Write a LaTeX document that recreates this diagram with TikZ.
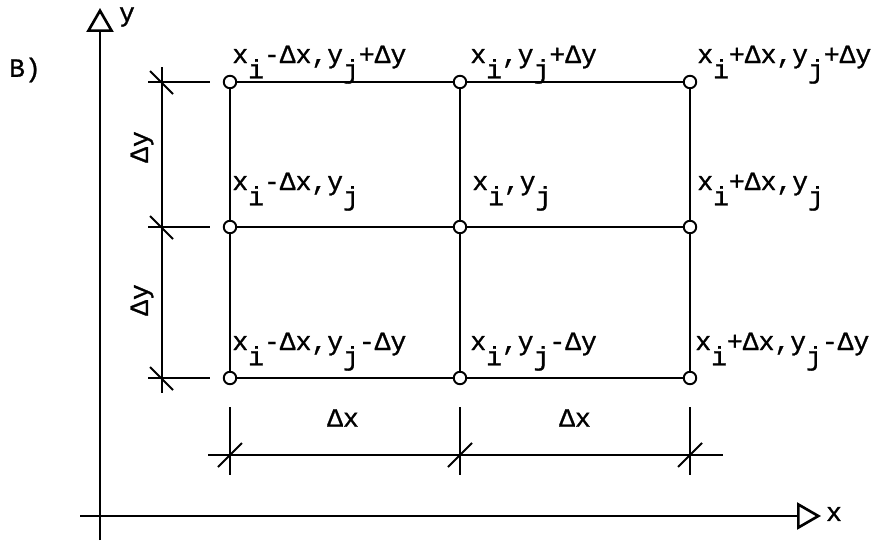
\documentclass[tikz,border=0pt]{standalone}
\usepackage{fontspec}
\setmainfont{Liberation Mono}[FakeBold=1]
\usetikzlibrary{arrows.meta,positioning}
\newcommand{\dn}[1]{\raisebox{-0.58em}{#1}}

\begin{document}
\begin{tikzpicture}[x=0.02cm,y=-0.02cm,
  axis/.style={line width=1.5pt,-{Triangle[open,length=4.8mm,width=5.4mm]}},
  gridline/.style={line width=1pt},
  dimline/.style={line width=0.8pt},
  slash/.style={line width=1.2pt},
  gpt/.style={circle,draw,fill=white,line width=1.1pt,inner sep=0pt,minimum size=2.5mm},
  lbl/.style={anchor=base west,inner sep=0pt,font=\fontsize{15}{18}\selectfont},
  txt/.style={inner sep=0pt,font=\fontsize{15}{18}\selectfont}]
  \useasboundingbox (0,0) rectangle (873,541);
  % axes
  \coordinate (ybot) at (100,540);
  \coordinate (ytip) at (100,8);
  \coordinate (xbeg) at (80,516);
  \coordinate (xtip) at (821,516);
  \draw[axis] (ybot)--(ytip);
  \draw[axis] (xbeg)--(xtip);
  \node[txt] (ylab) at (127,17) {y};
  \node[txt] (xlab) at (834,514) {x};
  \node[txt] (part) at (25,70) {B)};
  % grid points
  \node[gpt] (tl) at (230,82) {};
  \node[gpt] (tc) at (460,82) {};
  \node[gpt] (tr) at (690,82) {};
  \node[gpt] (ml) at (230,227) {};
  \node[gpt] (mc) at (460,227) {};
  \node[gpt] (mr) at (690,227) {};
  \node[gpt] (bl) at (230,378) {};
  \node[gpt] (bc) at (460,378) {};
  \node[gpt] (br) at (690,378) {};
  \draw[gridline] (tl)--(tc) (tc)--(tr) (ml)--(mc) (mc)--(mr) (bl)--(bc) (bc)--(br);
  \draw[gridline] (tl)--(ml) (ml)--(bl) (tc)--(mc) (mc)--(bc) (tr)--(mr) (mr)--(br);
  % point labels
  \node[lbl] at (232,63) {x\dn{i}-Δx,y\dn{j}+Δy};
  \node[lbl] at (470,63) {x\dn{i},y\dn{j}+Δy};
  \node[lbl] at (697,63) {x\dn{i}+Δx,y\dn{j}+Δy};
  \node[lbl] at (232,190) {x\dn{i}-Δx,y\dn{j}};
  \node[lbl] at (472,190) {x\dn{i},y\dn{j}};
  \node[lbl] at (697,190) {x\dn{i}+Δx,y\dn{j}};
  \node[lbl] at (232,350) {x\dn{i}-Δx,y\dn{j}-Δy};
  \node[lbl] at (470,350) {x\dn{i},y\dn{j}-Δy};
  \node[lbl] at (695,350) {x\dn{i}+Δx,y\dn{j}-Δy};
  % dimension in y
  \coordinate (dyt) at (162,67);
  \coordinate (dyb) at (162,393);
  \draw[dimline] (dyt)--(dyb);
  \draw[dimline] (148,82)--(210,82);
  \draw[dimline] (148,227)--(210,227);
  \draw[dimline] (148,378)--(210,378);
  \draw[slash] (150,71)--(173,94);
  \draw[slash] (150,216)--(173,239);
  \draw[slash] (150,367)--(173,390);
  \node[txt,rotate=90] (dy1) at (142,147) {Δy};
  \node[txt,rotate=90] (dy2) at (142,300) {Δy};
  % dimension in x
  \coordinate (dxl) at (208,455);
  \coordinate (dxr) at (723,455);
  \draw[dimline] (dxl)--(dxr);
  \draw[dimline] (230,407)--(230,475);
  \draw[dimline] (460,407)--(460,475);
  \draw[dimline] (690,407)--(690,475);
  \draw[slash] (218,467)--(242,443);
  \draw[slash] (448,467)--(472,443);
  \draw[slash] (678,467)--(702,443);
  \node[txt] (dx1) at (343,418) {Δx};
  \node[txt] (dx2) at (575,418) {Δx};
\end{tikzpicture}
\end{document}
